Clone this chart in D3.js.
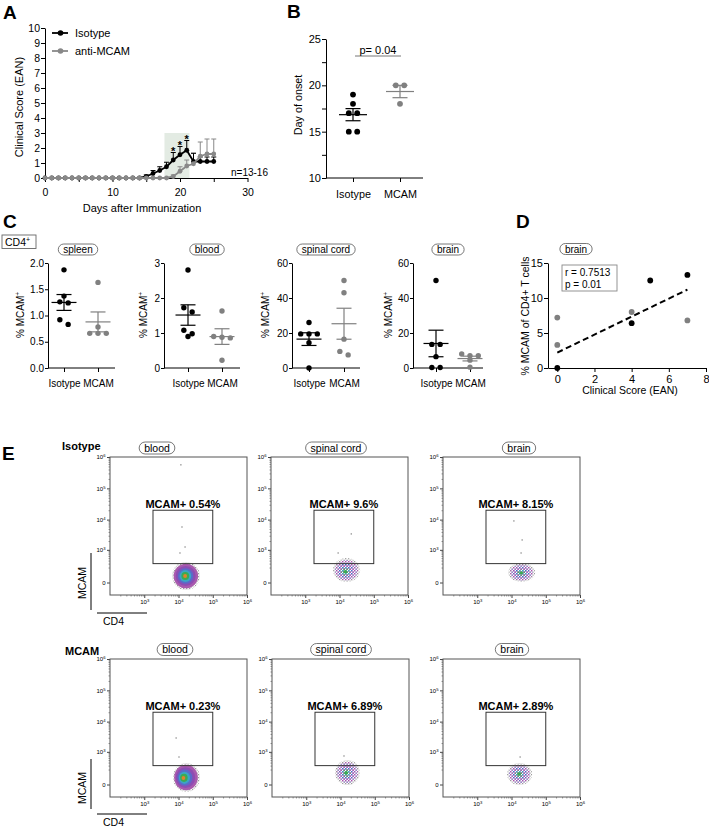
<!DOCTYPE html>
<html><head><meta charset="utf-8">
<script src="https://cdn.jsdelivr.net/npm/d3@7"></script>
<style>body{margin:0;background:#fff}svg{display:block}</style>
</head><body><svg id="chart" width="709" height="827"></svg>
<script>
// ---------------- DATA ----------------
// Panel A: clinical score over time
const days = [0,1,2,3,4,5,6,7,8,9,10,11,12,13,14,15,16,17,18,19,20,21,22,23,24,25];
const isoScore = [0,0,0,0,0,0,0,0,0,0,0,0,0,0,0,0.1,0.3,0.5,0.75,1.2,1.55,1.85,1.1,1.1,1.1,1.1];
const isoSem   = [0,0,0,0,0,0,0,0,0,0,0,0,0,0,0,0.1,0.2,0.25,0.3,0.5,0.55,0.65,0.55,0.3,0.3,0.3];
const mcamScore= [0,0,0,0,0,0,0,0,0,0,0,0,0,0,0,0,0,0,0,0.1,0.45,0.8,0.95,1.45,1.6,1.6];
const mcamSem  = [0,0,0,0,0,0,0,0,0,0,0,0,0,0,0,0,0,0,0,0.1,0.3,0.4,0.7,0.95,1.0,1.0];
const starDays = [19,20,21];
const highlightDays = [17.7, 21.4];
const highlightTop = 3;
const scoreTicks = [0,1,2,3,4,5,6,7,8,9,10];
const dayTicks = [0,5,10,15,20,25,30];
const seriesNames = ['Isotype','anti-MCAM'];

// Panel B: day of onset
const onsetIso = [19,18,17,17,15,15];
const onsetMcam = [20,20,18];
const onsetTicks = [10,12.5,15,17.5,20,22.5,25];
const groups = ['Isotype','MCAM'];

// Panel C: % MCAM+ of CD4+
const spleenIso = [1.87,1.37,1.26,1.24,0.92,0.83];
const spleenMcam = [1.63,0.78,0.66,0.66,0.66];
const bloodIso = [2.8,1.72,1.6,1.08,0.98,0.9];
const bloodMcam = [1.63,0.9,0.88,0.86,0.22];
const spinalIso = [26,19.5,19.5,19.5,14.5,0];
const spinalMcam = [50,43,16.5,9.5,7.5];
const brainIso = [50,13.5,13.5,6.5,0.3,0.3];
const brainMcam = [8,7,7,4.5,0.5];
const spleenTicks = [0,0.5,1,1.5,2];
const bloodTicks = [0,1,2,3];
const spinalTicks = [0,20,40,60];
const brainTicks = [0,20,40,60];

// Panel D: correlation
const dIsoX = [0,4,5,7];
const dIsoY = [0,6.4,12.5,13.3];
const dMcamX = [0,0,4,7];
const dMcamY = [7.2,3.3,8.0,6.8];
const fitX = [0,7];
const fitY = [2.2,11.2];
const dXTicks = [0,2,4,6,8];
const dYTicks = [0,5,10,15];
const corrR = '0.7513', corrP = '0.01';

// Panel E: flow cytometry
const flowGroups = ['Isotype','MCAM'];
const flowTissues = ['blood','spinal cord','brain'];
const flowPct = [[0.54, 9.6, 8.15],[0.23, 6.89, 2.89]];
const gateCD4 = [1800, 1e5];
const gateMCAM = [300, 2e4];
// cluster extents [cd4Lo, cd4Hi, mcamLo, mcamHi, cd4Core, mcamCore]
const flowClusters = [
  [[6500,42000,-73,352,15500,61],[6500,40000,4,505,14500,116],[8000,49000,4,320,19000,101]],
  [[6900,42000,-73,385,13500,61],[6900,37000,-4,505,14500,134],[7400,40000,-4,385,16600,116]]
];
const flowDense = [[true,false,false],[true,false,false]];
const flowOutliers = [
  [[[11700,565000],[12600,5800],[15500,1260],[11000,776]],[[22000,3450],[9100,776]],[[11700,9100],[20400,2180],[19000,776]]],
  [[[8500,2950],[10300,655]],[[12600,715]],[[17800,655]]]
];
const flowMajor = [1e3,1e4,1e5,1e6];
const flowYMajor = [0,1e3,1e4,1e5,1e6];

// ---------------- DRAWING ----------------
const svg = d3.select('#chart');
const FONT = '"Liberation Sans", Arial, Helvetica, sans-serif';
const BLK = '#000', GRY = '#808080';

function fmtAxis(g, fs){
  g.attr('font-family', FONT).attr('font-size', fs);
  g.selectAll('.domain').attr('stroke','#000').attr('stroke-width',1);
  g.selectAll('.tick line').attr('stroke','#000').attr('stroke-width',1);
  g.selectAll('.tick text').attr('fill','#000');
  return g;
}
function txt(x,y,s,fs,opt={}){
  const t = svg.append('text').attr('x',x).attr('y',y).attr('font-family',FONT).attr('font-size',fs)
    .attr('fill',opt.fill||'#000').attr('text-anchor',opt.anchor||'start').text(s);
  if(opt.bold) t.attr('font-weight','bold');
  if(opt.rotate) t.attr('transform',`rotate(-90,${x},${y})`);
  return t;
}
function panelLabel(s,x,y){ txt(x,y,s,19,{bold:true}); }
function pill(cx,cy,s,fs,h){
  const g = svg.append('g');
  const t = g.append('text').attr('x',cx).attr('y',cy).attr('dy','0.35em').attr('text-anchor','middle')
    .attr('font-family',FONT).attr('font-size',fs).text(s);
  const w = t.node().getComputedTextLength()+10;
  g.insert('rect','text').attr('x',cx-w/2).attr('y',cy-h/2).attr('width',w).attr('height',h)
    .attr('rx',h/2).attr('fill','#fff').attr('stroke','#555').attr('stroke-width',0.8);
}
function swarm(values, y, xc, spacing, rowGap){
  const pts = values.map(v=>({v,py:y(v)})).sort((a,b)=>a.py-b.py);
  const rows=[]; let cur=null;
  pts.forEach(p=>{ if(!cur || p.py-cur.start>=rowGap){cur={start:p.py,pts:[]};rows.push(cur);} cur.pts.push(p); });
  rows.forEach(r=>{const k=r.pts.length; r.pts.forEach((p,i)=>{p.px = xc+(i-(k-1)/2)*spacing;});});
  return pts;
}
function dotGroup(values, xc, y, color, o){
  const pts = swarm(values, y, xc, o.spacing, o.rowGap);
  svg.append('g').selectAll('circle').data(pts).join('circle')
    .attr('cx',d=>d.px).attr('cy',d=>d.py).attr('r',o.r).attr('fill',color);
  const m = d3.mean(values), s = d3.deviation(values)/Math.sqrt(values.length);
  const g = svg.append('g').attr('stroke',color).attr('stroke-width',1.2);
  g.append('line').attr('x1',xc-o.mw).attr('x2',xc+o.mw).attr('y1',y(m)).attr('y2',y(m));
  g.append('line').attr('x1',xc).attr('x2',xc).attr('y1',y(m-s)).attr('y2',y(m+s));
  [m-s,m+s].forEach(v=>g.append('line').attr('x1',xc-o.cw).attr('x2',xc+o.cw).attr('y1',y(v)).attr('y2',y(v)));
}

// ===== Panel A =====
panelLabel('A',3,19);
const xA = d3.scaleLinear().domain([0,30]).range([45,247.5]);
const yA = d3.scaleLinear().domain([0,10]).range([178,28]);
svg.append('rect').attr('x',xA(highlightDays[0])).attr('y',yA(highlightTop))
  .attr('width',xA(highlightDays[1])-xA(highlightDays[0])).attr('height',yA(0)-yA(highlightTop)).attr('fill','#e3ebe3');
fmtAxis(svg.append('g').attr('transform','translate(45,0)')
  .call(d3.axisLeft(yA).tickValues(scoreTicks).tickSize(4).tickSizeOuter(0).tickPadding(1)),10.5);
fmtAxis(svg.append('g').attr('transform',`translate(0,${yA(0)})`)
  .call(d3.axisBottom(xA).tickValues(dayTicks).tickFormat(d=>d%10===0?d:'').tickSize(4).tickSizeOuter(0).tickPadding(7)),10.5);
txt(142,212,'Days after Immunization',11,{anchor:'middle'});
txt(23,107,'Clinical Score (EAN)',11,{anchor:'middle',rotate:true});
txt(231,176,'n=13-16',10);

const seriesA = [
  {mean:mcamScore, sem:mcamSem, color:'#888'},
  {mean:isoScore, sem:isoSem, color:BLK}
];
seriesA.forEach(s=>{
  const g = svg.append('g');
  days.forEach((d,i)=>{
    if(s.sem[i]>0){
      g.append('line').attr('x1',xA(d)).attr('x2',xA(d)).attr('y1',yA(s.mean[i])).attr('y2',yA(s.mean[i]+s.sem[i])).attr('stroke',s.color).attr('stroke-width',1);
      g.append('line').attr('x1',xA(d)-2.5).attr('x2',xA(d)+2.5).attr('y1',yA(s.mean[i]+s.sem[i])).attr('y2',yA(s.mean[i]+s.sem[i])).attr('stroke',s.color).attr('stroke-width',1);
    }
  });
});
[seriesA[1], seriesA[0]].forEach(s=>{
  svg.append('path').datum(days.map((d,i)=>[d,s.mean[i]]))
    .attr('d',d3.line().x(d=>xA(d[0])).y(d=>yA(d[1]))).attr('fill','none').attr('stroke',s.color).attr('stroke-width',1.8);
  svg.append('g').selectAll('circle').data(days.map((d,i)=>[d,s.mean[i]])).join('circle')
    .attr('cx',d=>xA(d[0])).attr('cy',d=>yA(d[1])).attr('r',2.4).attr('fill',s.color);
});
starDays.forEach(d=>{
  const i = days.indexOf(d);
  txt(xA(d), yA(isoScore[i]+isoSem[i])+2.5, '*', 11, {anchor:'middle', bold:true});
});
// legend
[[33,BLK,seriesNames[0]],[51,'#888',seriesNames[1]]].forEach(([y,c,n])=>{
  svg.append('line').attr('x1',52).attr('x2',68).attr('y1',y).attr('y2',y).attr('stroke',c).attr('stroke-width',1.8);
  svg.append('circle').attr('cx',60.5).attr('cy',y).attr('r',2.8).attr('fill',c);
  txt(75,y+4,n,11);
});

// ===== Panel B =====
panelLabel('B',287,18);
const yB = d3.scaleLinear().domain([10,25]).range([178,39]);
const xB = d3.scalePoint().domain(groups).range([353,400]);
fmtAxis(svg.append('g').attr('transform','translate(326,0)')
  .call(d3.axisLeft(yB).tickValues(onsetTicks).tickFormat(d=>d%5===0?d:'').tickSize(4).tickSizeOuter(0).tickPadding(1)),11);
svg.append('line').attr('x1',326).attr('x2',423).attr('y1',178).attr('y2',178).attr('stroke','#000');
const xBax = svg.append('g').attr('transform','translate(0,178)')
  .call(d3.axisBottom(xB).tickSize(4).tickSizeOuter(0).tickPadding(8));
xBax.select('.domain').remove();
fmtAxis(xBax,10.8);
txt(302,105,'Day of onset',10.8,{anchor:'middle',rotate:true});
const bOpts = {r:2.9, spacing:8.4, rowGap:5.5, mw:14, cw:7.5};
dotGroup(onsetIso, xB('Isotype'), yB, BLK, bOpts);
dotGroup(onsetMcam, xB('MCAM'), yB, GRY, bOpts);
svg.append('line').attr('x1',355).attr('x2',401).attr('y1',56).attr('y2',56).attr('stroke','#777').attr('stroke-width',1);
txt(378,54,'p= 0.04',11,{anchor:'middle'});

// ===== Panel C =====
panelLabel('C',3,228);
svg.append('rect').attr('x',2).attr('y',235).attr('width',34).attr('height',13.5).attr('fill','none').attr('stroke','#666').attr('stroke-width',0.9);
const cd4 = txt(5,246,'CD4',10.5); cd4.append('tspan').attr('dy',-4).attr('font-size',7).text('+');
const cPanels = [
  {title:'spleen', iso:spleenIso, mcam:spleenMcam, ticks:spleenTicks, fmt:d3.format('.1f'), left:48, off:[16,50], len:67, pillX:78, ylab:20},
  {title:'blood', iso:bloodIso, mcam:bloodMcam, ticks:bloodTicks, fmt:d3.format('d'), left:164, off:[24,58], len:76, pillX:207, ylab:143},
  {title:'spinal cord', iso:spinalIso, mcam:spinalMcam, ticks:spinalTicks, fmt:d3.format('d'), left:292, off:[17,52], len:68, pillX:326, ylab:265},
  {title:'brain', iso:brainIso, mcam:brainMcam, ticks:brainTicks, fmt:d3.format('d'), left:413, off:[23,57], len:70, pillX:448, ylab:388}
];
const cOpts = {r:2.7, spacing:8.3, rowGap:5.5, mw:12.5, cw:7.5};
cPanels.forEach(p=>{
  const y = d3.scaleLinear().domain([p.ticks[0], p.ticks[p.ticks.length-1]]).range([368,263]);
  const x = d3.scalePoint().domain(groups).range([p.left+p.off[0], p.left+p.off[1]]);
  fmtAxis(svg.append('g').attr('transform',`translate(${p.left},0)`)
    .call(d3.axisLeft(y).tickValues(p.ticks).tickFormat(p.fmt).tickSize(3).tickSizeOuter(0).tickPadding(1)),10);
  svg.append('line').attr('x1',p.left).attr('x2',p.left+p.len).attr('y1',368).attr('y2',368).attr('stroke','#000');
  const xa = svg.append('g').attr('transform','translate(0,368)').call(d3.axisBottom(x).tickSize(4).tickSizeOuter(0).tickPadding(8));
  xa.select('.domain').remove(); fmtAxis(xa,10);
  const yl = txt(p.ylab+3.5, 315, '% MCAM', 10, {anchor:'middle', rotate:true});
  yl.append('tspan').attr('dy',-4).attr('font-size',6.5).text('+');
  pill(p.pillX, 249.5, p.title, 10, 11);
  dotGroup(p.iso, x('Isotype'), y, BLK, cOpts);
  dotGroup(p.mcam, x('MCAM'), y, GRY, cOpts);
});

// ===== Panel D =====
panelLabel('D',516,228);
const xD = d3.scaleLinear().domain([-0.5,8]).range([548,706]);
const yD = d3.scaleLinear().domain([0,15]).range([368,263]);
fmtAxis(svg.append('g').attr('transform','translate(548,0)')
  .call(d3.axisLeft(yD).tickValues(dYTicks).tickSize(4).tickSizeOuter(0).tickPadding(1)),11);
fmtAxis(svg.append('g').attr('transform','translate(0,368)')
  .call(d3.axisBottom(xD).tickValues(dXTicks).tickSize(4).tickSizeOuter(0).tickPadding(3)),11);
txt(630,394,'Clinical Score (EAN)',10.5,{anchor:'middle'});
txt(529,316,'% MCAM of CD4+ T cells',10.5,{anchor:'middle',rotate:true});
pill(576,249,'brain',10,11);
svg.append('rect').attr('x',562).attr('y',265).attr('width',55).attr('height',26).attr('fill','#fff').attr('stroke','#888').attr('stroke-width',0.9);
txt(565,276,'r = '+corrR,10);
txt(565,288,'p = '+corrP,10);
svg.append('line').attr('x1',xD(fitX[0])).attr('y1',yD(fitY[0])).attr('x2',xD(fitX[1])).attr('y2',yD(fitY[1]))
  .attr('stroke','#000').attr('stroke-width',2).attr('stroke-dasharray','6,3.5');
svg.append('g').selectAll('circle').data(dMcamX.map((x,i)=>[x,dMcamY[i]])).join('circle')
  .attr('cx',d=>xD(d[0])).attr('cy',d=>yD(d[1])).attr('r',2.9).attr('fill',GRY);
svg.append('g').selectAll('circle').data(dIsoX.map((x,i)=>[x,dIsoY[i]])).join('circle')
  .attr('cx',d=>xD(d[0])).attr('cy',d=>yD(d[1])).attr('r',2.9).attr('fill',BLK);

// ===== Panel E =====
panelLabel('E',2,460);
const defs = svg.append('defs');
function speck(id, cols){
  const p = defs.append('pattern').attr('id',id).attr('width',3).attr('height',3).attr('patternUnits','userSpaceOnUse');
  p.append('rect').attr('x',0).attr('y',0).attr('width',1.3).attr('height',1.3).attr('fill',cols[0]);
  p.append('rect').attr('x',1.5).attr('y',1.5).attr('width',1.3).attr('height',1.3).attr('fill',cols[1]);
}
speck('spGray',['#9c9c9c','#b8b8b8']);
speck('spMag',['#b04ab0','#7a5cc4']);
speck('spBlue',['#3d6fd0','#b04ab0']);
speck('spCyan',['#37b3c0','#3bab52']);
const denseLevels = [
  {s:1,f:'url(#spGray)'},{s:0.88,f:'#a95aae'},{s:0.72,f:'#8d4db3'},{s:0.56,f:'#5a6bc8'},
  {s:0.42,f:'#3aa6c4'},{s:0.28,f:'#3bab52'},{s:0.14,f:'#e0832c'}];
const sparseLevels = [
  {s:1,f:'url(#spGray)'},{s:0.85,f:'url(#spMag)'},{s:0.6,f:'url(#spBlue)'},{s:0.35,f:'url(#spCyan)'},{s:0.15,f:'#3bab52'}];
const rowLayout = [
  {top:457, labelY:450, pillY:448, axisV:[553,610], mcamY:583, cd4Line:613, cd4Y:625},
  {top:659, labelY:655, pillY:649.5, axisV:[759,809], mcamY:788, cd4Line:814, cd4Y:826}
];
const colLayout = [[{left:110,title:157},{left:271,title:336},{left:443,title:519}],
                   [{left:110,title:175},{left:272,title:341},{left:443,title:512}]];
const BW = 137, BH = 138;
const minorX = [], minorY = [];
[2,3,4,5].forEach(k=>[2,3,4,5,6,7,8,9].forEach(m=>minorX.push(m*Math.pow(10,k))));
[2,3,4,5].forEach(k=>[2,3,4,5,6,7,8,9].forEach(m=>minorY.push(m*Math.pow(10,k))));
function supLabels(g){
  g.selectAll('.tick text').each(function(d){
    const t = d3.select(this);
    if(d===0){ t.text('0'); return; }
    const e = Math.round(Math.log10(d));
    t.text(null);
    t.append('tspan').text('10');
    t.append('tspan').attr('dy','-0.5em').attr('font-size','0.7em').text(e);
  });
}
flowGroups.forEach((grp,r)=>{
  const RL = rowLayout[r];
  txt(r===0?62:65, RL.labelY, grp, 11, {bold:true});
  svg.append('line').attr('x1',91).attr('x2',91).attr('y1',RL.axisV[0]).attr('y2',RL.axisV[1]).attr('stroke','#000');
  txt(86, RL.mcamY, 'MCAM', 10.5, {anchor:'middle', rotate:true});
  svg.append('line').attr('x1',97).attr('x2',147).attr('y1',RL.cd4Line).attr('y2',RL.cd4Line).attr('stroke','#000');
  txt(103, RL.cd4Y, 'CD4', 10.5);
  flowTissues.forEach((tis,c)=>{
    const L = colLayout[r][c], top = RL.top;
    const x = d3.scaleLog().domain([1e2,1e6]).range([L.left, L.left+BW]);
    const y = d3.scaleSymlog().constant(100).domain([-150,1e6]).range([top+BH, top]);
    pill(L.title, RL.pillY, tis, 10.5, 12);
    // cluster
    const cl = flowClusters[r][c];
    const cx0 = (x(cl[0])+x(cl[1]))/2, cy0 = (y(cl[2])+y(cl[3]))/2;
    const rx = (x(cl[1])-x(cl[0]))/2, ry = (y(cl[2])-y(cl[3]))/2;
    const kx = x(cl[4]), ky = y(cl[5]);
    const levels = flowDense[r][c] ? denseLevels : sparseLevels;
    const cg = svg.append('g');
    levels.forEach(Lv=>{
      const t = 1-Lv.s;
      cg.append('ellipse').attr('cx',cx0+(kx-cx0)*t).attr('cy',cy0+(ky-cy0)*t)
        .attr('rx',rx*Lv.s).attr('ry',ry*Lv.s).attr('fill',Lv.f);
    });
    svg.append('g').selectAll('rect').data(flowOutliers[r][c]).join('rect')
      .attr('x',d=>x(d[0])-0.6).attr('y',d=>y(d[1])-0.6).attr('width',1.3).attr('height',1.3).attr('fill','#888');
    // gate
    svg.append('rect').attr('x',x(gateCD4[0])).attr('y',y(gateMCAM[1]))
      .attr('width',x(gateCD4[1])-x(gateCD4[0])).attr('height',y(gateMCAM[0])-y(gateMCAM[1]))
      .attr('fill','none').attr('stroke','#333').attr('stroke-width',1);
    txt((x(gateCD4[0])+x(gateCD4[1]))/2, y(gateMCAM[1])-2.5, 'MCAM+ '+flowPct[r][c]+'%', 11, {anchor:'middle', bold:true});
    // axes
    const ya = svg.append('g').attr('transform',`translate(${L.left},0)`)
      .call(d3.axisLeft(y).tickValues(flowYMajor).tickSize(3).tickSizeOuter(0).tickPadding(1.5));
    ya.select('.domain').remove(); fmtAxis(ya,6); supLabels(ya);
    ya.selectAll('.tick line').attr('stroke','#444');
    const ym = svg.append('g').attr('transform',`translate(${L.left},0)`)
      .call(d3.axisLeft(y).tickValues(minorY).tickSize(1.5).tickFormat(''));
    ym.select('.domain').remove(); ym.selectAll('.tick line').attr('stroke','#555').attr('stroke-width',0.6);
    const xa = svg.append('g').attr('transform',`translate(0,${top+BH})`)
      .call(d3.axisBottom(x).tickValues(flowMajor).tickSize(3).tickSizeOuter(0).tickPadding(2).tickFormat(d=>d));
    xa.select('.domain').remove(); fmtAxis(xa,6); supLabels(xa);
    xa.selectAll('.tick line').attr('stroke','#444');
    const xm = svg.append('g').attr('transform',`translate(0,${top+BH})`)
      .call(d3.axisBottom(x).tickValues(minorX).tickSize(1.5).tickFormat(''));
    xm.select('.domain').remove(); xm.selectAll('.tick line').attr('stroke','#555').attr('stroke-width',0.6);
    // frame
    svg.append('rect').attr('x',L.left).attr('y',top).attr('width',BW).attr('height',BH)
      .attr('fill','none').attr('stroke','#555').attr('stroke-width',1);
  });
});
</script></body></html>
